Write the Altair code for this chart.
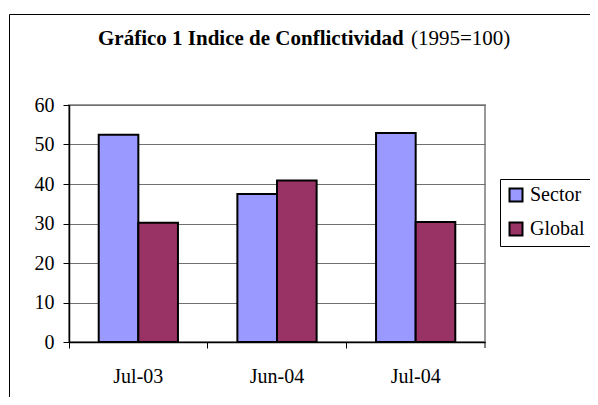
import altair as alt
import pandas as pd

categories = ["Jul-03", "Jun-04", "Jul-04"]
series = ["Sector", "Global"]
sector_values = [52.5, 37.5, 52.9]
global_values = [30.2, 40.9, 30.4]
colors = ["#9999FF", "#993366"]
y_ticks = [0, 10, 20, 30, 40, 50, 60]
title_bold = "Gráfico 1 Indice de Conflictividad"
title_normal = "(1995=100)"

rows = []
for i, c in enumerate(categories):
    rows.append({"cat": c, "series": "Sector", "value": sector_values[i]})
    rows.append({"cat": c, "series": "Global", "value": global_values[i]})
df = pd.DataFrame(rows)

FONT = "'Liberation Serif', 'Times New Roman', serif"

xaxis = alt.Axis(
    title=None, labelAngle=0, bandPosition=0, tickSize=6, labelPadding=18,
    domainColor="black", tickColor="black", domainWidth=1.5,
    labelFont=FONT, labelFontSize=20, labelColor="black", grid=False,
)
xscale = alt.Scale(domain=categories, paddingInner=0, paddingOuter=0)

bars = alt.Chart(df).mark_bar(stroke="black", strokeWidth=2).encode(
    x=alt.X("cat:N", sort=categories, scale=xscale, axis=xaxis, title=None),
    xOffset=alt.XOffset("series:N", sort=series,
                        scale=alt.Scale(domain=series, paddingInner=0, paddingOuter=0.75)),
    y=alt.Y("value:Q", scale=alt.Scale(domain=[0, 60], nice=False),
            axis=alt.Axis(title=None, values=y_ticks, tickSize=6, labelPadding=9,
                          domainColor="black", tickColor="black", domainWidth=1.5,
                          gridColor="#707070", gridWidth=1,
                          labelFont=FONT, labelFontSize=20, labelColor="black"),
            title=None),
    color=alt.Color("series:N", sort=series,
                    scale=alt.Scale(domain=series, range=colors),
                    legend=alt.Legend(
                        title=None, orient="none", legendX=431, legendY=74,
                        padding=6, rowPadding=12, symbolType="square", symbolSize=169,
                        symbolStrokeColor="black", symbolStrokeWidth=2,
                        strokeColor="black", fillColor="white", cornerRadius=0,
                        labelFont=FONT, labelFontSize=20, labelColor="black",
                        labelOffset=4)),
)

end_tick = alt.Chart(pd.DataFrame({"cat": [categories[-1]]})).mark_rule(
    color="black", strokeWidth=1
).encode(
    x=alt.X("cat:N", sort=categories, scale=xscale, axis=xaxis, bandPosition=1, title=None),
    y=alt.value(237),
    y2=alt.value(243),
)

frame = alt.Chart(pd.DataFrame({"k": [0]})).mark_rect(
    fillOpacity=0, stroke="black", strokeWidth=1
).encode(
    x=alt.value(-59.5), x2=alt.value(620),
    y=alt.value(-90.5), y2=alt.value(420),
)

t1 = alt.Chart(pd.DataFrame({"t": [title_bold]})).mark_text(
    font=FONT, fontSize=21, fontWeight="bold", align="left", baseline="alphabetic", color="black"
).encode(text="t:N", x=alt.value(29), y=alt.value(-60))

t2 = alt.Chart(pd.DataFrame({"t": [title_normal]})).mark_text(
    font=FONT, fontSize=21, align="left", baseline="alphabetic", color="black"
).encode(text="t:N", x=alt.value(342), y=alt.value(-60))

chart = alt.layer(frame, bars, end_tick, t1, t2).properties(
    width=416, height=237,
    autosize=alt.AutoSizeParams(type="none"),
    padding={"left": 61, "top": 97, "right": 105, "bottom": 55},
    background="white",
).configure(font=FONT).configure_view(stroke="#999999", strokeWidth=2).configure_legend(
    labelFont=FONT, labelFontSize=20
).configure_axis(labelFont=FONT, labelFontSize=20)

chart.save("out.html", embed_options={"renderer": "svg", "actions": False})
